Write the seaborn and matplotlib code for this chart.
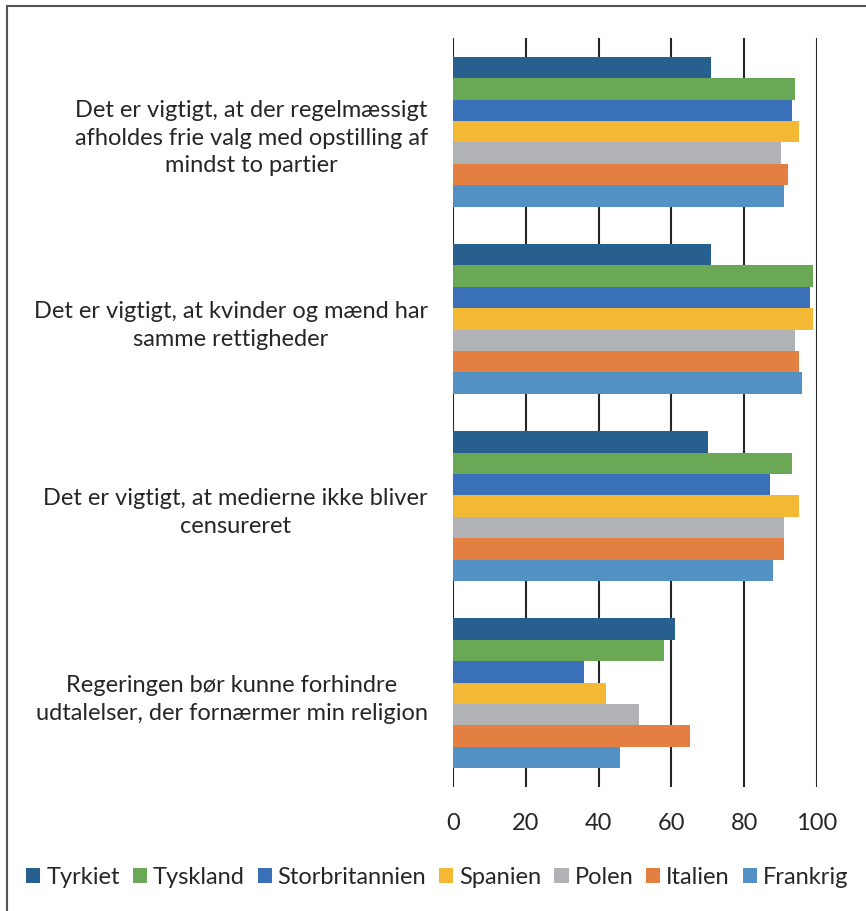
import matplotlib
matplotlib.use("Agg")
import matplotlib.pyplot as plt
import seaborn as sns
import pandas as pd
from matplotlib.patches import Rectangle

categories = [
    "Det er vigtigt, at der regelmæssigt\nafholdes frie valg med opstilling af\nmindst to partier",
    "Det er vigtigt, at kvinder og mænd har\nsamme rettigheder",
    "Det er vigtigt, at medierne ikke bliver\ncensureret",
    "Regeringen bør kunne forhindre\nudtalelser, der fornærmer min religion",
]
countries = ["Tyrkiet", "Tyskland", "Storbritannien", "Spanien", "Polen", "Italien", "Frankrig"]
tyrkiet = [71, 71, 70, 61]
tyskland = [94, 99, 93, 58]
storbritannien = [93, 98, 87, 36]
spanien = [95, 99, 95, 42]
polen = [90, 94, 91, 51]
italien = [92, 95, 91, 65]
frankrig = [91, 96, 88, 46]
colors = ["#27608E", "#6AA855", "#3A70B8", "#F3B935", "#B1B2B5", "#E37F40", "#5391C5"]
xticks = [0, 20, 40, 60, 80, 100]

series = [tyrkiet, tyskland, storbritannien, spanien, polen, italien, frankrig]
rows = []
for c, vals in zip(countries, series):
    for cat, v in zip(categories, vals):
        rows.append({"cat": cat, "country": c, "value": v})
df = pd.DataFrame(rows)

sns.set_style("white")
plt.rcParams["font.family"] = ["Lato", "DejaVu Sans"]

fig = plt.figure(figsize=(8.66, 9.12), dpi=100)
ax = fig.add_axes([453 / 866, 1 - 788 / 912, (817 - 453) / 866, (788 - 39) / 912])

sns.barplot(data=df, y="cat", x="value", hue="country", hue_order=countries,
            order=categories, palette=colors, orient="h", width=0.8,
            edgecolor="none", linewidth=0, saturation=1, ax=ax, zorder=3)

ax.set_xlim(0, 100)
ax.set_ylim(3.5, -0.5)
ax.set_xticks(xticks)
ax.set_xticklabels([str(t) for t in xticks], fontsize=17, color="#262626")
ax.tick_params(axis="x", length=0, pad=18)
ax.tick_params(axis="y", length=0, pad=18)
for lbl in ax.get_yticklabels():
    lbl.set_fontsize(17)
    lbl.set_color("#262626")
    lbl.set_horizontalalignment("right")
    lbl.set_multialignment("center")
    lbl.set_linespacing(1.4)
for s in ["top", "right", "bottom", "left"]:
    ax.spines[s].set_visible(False)
for t in xticks:
    ax.axvline(t, color="#262626", linewidth=1.5, zorder=1)
ax.set_xlabel("")
ax.set_ylabel("")

handles, labels = ax.get_legend_handles_labels()
ax.get_legend().remove()
fig.legend(handles, labels, loc="center", bbox_to_anchor=(0.505, 1 - 878 / 912),
           ncol=7, frameon=False, fontsize=17, handlelength=0.6, handleheight=0.6,
           handletextpad=0.25, columnspacing=0.55, borderaxespad=0, labelcolor="#262626")

fig.patches.append(Rectangle((7 / 866, -0.1), 1.2, 1 - 7 / 912 + 0.1, transform=fig.transFigure,
                             fill=False, edgecolor="#555555", linewidth=1.5))

fig.savefig("out.png", dpi=100)
